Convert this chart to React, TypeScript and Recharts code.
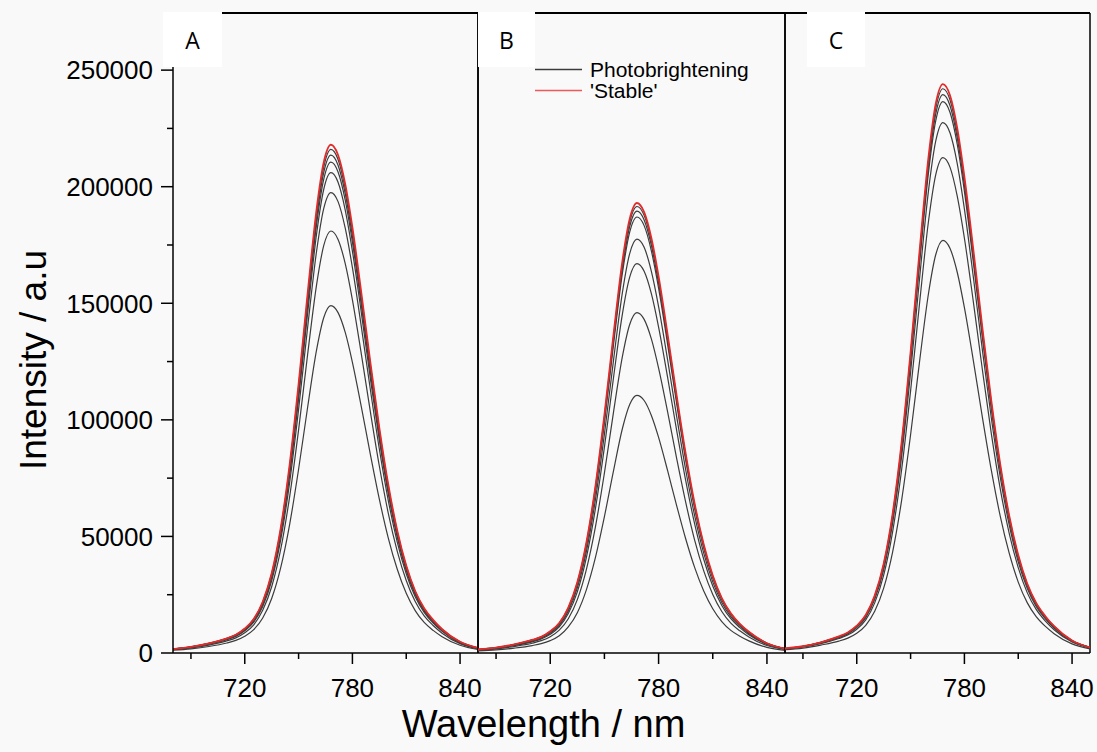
import { LineChart, Line, XAxis, YAxis, ReferenceLine } from 'recharts';

const wavelengths = [680, 690, 700, 710, 715, 720, 725, 730, 735, 740, 745, 750, 755, 760, 764, 768, 772, 776, 780, 785, 790, 795, 800, 805, 810, 815, 820, 825, 830, 840, 850];

const xTicks = [690, 720, 750, 780, 810, 840];
const xLabels = [720, 780, 840];
const yTicks = [0, 25000, 50000, 75000, 100000, 125000, 150000, 175000, 200000, 225000, 250000];
const yLabels = [0, 50000, 100000, 150000, 200000, 250000];

const panelAStable = [1700, 2600, 4100, 6300, 7800, 10500, 14600, 22000, 34200, 53400, 80700, 115300, 153900, 190100, 210400, 218000, 213600, 201100, 182500, 154300, 124700, 96600, 72200, 52500, 37500, 26600, 19200, 14200, 10200, 4800, 2200];
const panelAPhoto = [
  [1700, 2600, 4100, 6300, 7800, 10400, 14500, 21800, 33900, 52900, 79900, 114300, 152500, 188400, 208400, 216000, 211700, 199300, 180800, 152900, 123600, 95700, 71500, 52100, 37200, 26400, 19000, 14000, 10200, 4800, 2200],
  [1700, 2600, 4100, 6200, 7700, 10200, 14300, 21600, 33500, 52300, 79000, 112900, 150700, 186200, 206000, 213500, 209200, 197000, 178700, 151200, 122100, 94600, 70700, 51500, 36700, 26000, 18800, 13900, 10000, 4700, 2100],
  [1700, 2500, 4000, 6100, 7600, 10100, 14100, 21300, 33000, 51600, 77900, 111400, 148600, 183600, 203100, 210500, 206300, 194200, 176200, 149000, 120400, 93300, 69700, 50700, 36200, 25700, 18500, 13700, 9900, 4600, 2100],
  [1600, 2500, 3900, 6000, 7400, 9900, 13800, 20800, 32300, 50500, 76200, 109000, 145400, 179600, 198800, 206000, 201900, 190000, 172400, 145800, 117800, 91300, 68200, 49600, 35400, 25100, 18100, 13400, 9700, 4500, 2100],
  [1600, 2400, 3800, 5700, 7100, 9500, 13200, 19900, 31000, 48400, 73100, 104500, 139400, 172200, 190600, 197500, 193600, 182200, 165300, 139800, 113000, 87500, 65400, 47600, 34000, 24100, 17400, 12800, 9300, 4300, 2000],
  [1400, 2200, 3400, 5200, 6500, 8700, 12100, 18300, 28400, 44300, 67000, 95700, 127800, 157800, 174700, 181000, 177400, 167000, 151500, 128100, 103500, 80200, 59900, 43600, 31100, 22100, 15900, 11800, 8500, 4000, 1800],
  [1200, 1800, 2800, 4300, 5400, 7200, 10000, 15000, 23400, 36500, 55100, 78800, 105200, 129900, 143800, 149000, 146000, 137500, 124700, 105500, 85200, 66000, 49300, 35900, 25600, 18200, 13100, 9700, 7000, 3300, 1500],
];

const panelBStable = [1500, 2300, 3700, 5600, 6900, 9300, 12900, 19500, 30300, 47300, 71400, 102100, 136300, 168300, 186200, 193000, 189100, 178000, 161500, 136600, 110400, 85500, 63900, 46500, 33200, 23500, 17000, 12500, 9100, 4200, 1900];
const panelBPhoto = [
  [1500, 2300, 3600, 5600, 6900, 9200, 12800, 19300, 30100, 46900, 70900, 101300, 135200, 167000, 184800, 191500, 187700, 176700, 160300, 135600, 109500, 84800, 63400, 46200, 32900, 23400, 16900, 12400, 9000, 4200, 1900],
  [1500, 2300, 3600, 5500, 6800, 9100, 12700, 19100, 29800, 46400, 70100, 100200, 133800, 165200, 182900, 189500, 185700, 174800, 158600, 134200, 108400, 83900, 62700, 45700, 32600, 23100, 16700, 12300, 8900, 4200, 1900],
  [1500, 2200, 3600, 5400, 6700, 9000, 12500, 18900, 29400, 45800, 69200, 98900, 132000, 163100, 180500, 187000, 183300, 172500, 156500, 132400, 107000, 82800, 61900, 45100, 32200, 22800, 16500, 12200, 8800, 4100, 1900],
  [1400, 2100, 3400, 5100, 6400, 8500, 11900, 17900, 27900, 43500, 65700, 93900, 125300, 154800, 171300, 177500, 174000, 163700, 148600, 125700, 101500, 78600, 58800, 42800, 30500, 21700, 15600, 11500, 8300, 3900, 1800],
  [1300, 2000, 3200, 4800, 6000, 8000, 11200, 16900, 26200, 40900, 61800, 88300, 117900, 145600, 161200, 167000, 163700, 154100, 139800, 118200, 95500, 74000, 55300, 40200, 28700, 20400, 14700, 10900, 7800, 3700, 1700],
  [1200, 1800, 2800, 4200, 5300, 7000, 9800, 14700, 22900, 35800, 54000, 77200, 103100, 127300, 140900, 146000, 143100, 134700, 122200, 103400, 83500, 64700, 48300, 35200, 25100, 17800, 12800, 9500, 6900, 3200, 1500],
  [900, 1300, 2100, 3200, 4000, 5300, 7400, 11200, 17300, 27100, 40900, 58500, 78000, 96400, 106600, 110500, 108300, 101900, 92500, 78200, 63200, 49000, 36600, 26600, 19000, 13500, 9700, 7200, 5200, 2400, 1100],
];

const panelCStable = [2000, 2900, 4600, 7100, 8800, 11700, 16300, 24600, 38300, 59800, 90300, 129100, 172300, 212800, 235500, 244000, 239100, 225100, 204200, 172800, 139600, 108100, 80800, 58800, 42000, 29800, 21500, 15900, 11500, 5400, 2400];
const panelCPhoto = [
  [1900, 2900, 4600, 7000, 8700, 11600, 16200, 24400, 38000, 59300, 89500, 128000, 170900, 211000, 233500, 242000, 237200, 223200, 202600, 171300, 138400, 107200, 80100, 58300, 41600, 29500, 21300, 15700, 11400, 5300, 2400],
  [1900, 2900, 4600, 6900, 8600, 11500, 16000, 24200, 37600, 58700, 88600, 126700, 169100, 208800, 231100, 239500, 234700, 220900, 200500, 169600, 137000, 106100, 79300, 57700, 41200, 29200, 21100, 15600, 11300, 5300, 2400],
  [1900, 2800, 4500, 6900, 8500, 11400, 15800, 23900, 37100, 57900, 87500, 125100, 167000, 206200, 228200, 236500, 231800, 218200, 198000, 167400, 135300, 104800, 78300, 57000, 40700, 28900, 20800, 15400, 11100, 5200, 2400],
  [1800, 2700, 4300, 6600, 8200, 10900, 15200, 23000, 35700, 55700, 84200, 120300, 160600, 198400, 219500, 227500, 223000, 209900, 190400, 161100, 130100, 100800, 75300, 54800, 39100, 27800, 20000, 14800, 10700, 5000, 2300],
  [1700, 2600, 4000, 6200, 7700, 10200, 14200, 21500, 33400, 52100, 78600, 112400, 150000, 185300, 205100, 212500, 208300, 196000, 177900, 150500, 121600, 94100, 70300, 51200, 36600, 25900, 18700, 13800, 10000, 4700, 2100],
  [1400, 2100, 3400, 5100, 6400, 8500, 11900, 17900, 27800, 43400, 65500, 93600, 125000, 154300, 170800, 177000, 173500, 163300, 148100, 125300, 101200, 78400, 58600, 42700, 30400, 21600, 15600, 11500, 8300, 3900, 1800],
];

const X_MIN = 680;
const X_MAX = 850;
const Y_MAX = 274500;
const FONT = '"Liberation Sans", Arial, sans-serif';
const GRAY = '#3c3c3c';
const RED = '#e22b2b';
const Y_GAP = 20;
const X_GAP = 26;

function buildRows(photo: number[][], stable: number[]) {
  return wavelengths.map((w, i) => {
    const row: Record<string, number> = { w, stable: stable[i] };
    photo.forEach((s, k) => {
      row['p' + k] = s[i];
    });
    return row;
  });
}

const YTick = (props: any) => {
  const { x, y, payload } = props;
  const major = yLabels.includes(payload.value);
  const ax = x + Y_GAP;
  return (
    <g>
      <line x1={ax - (major ? 12 : 6)} x2={ax} y1={y} y2={y} stroke="#000" strokeWidth={1.5} />
      {major && (
        <text x={x} y={y} dy="0.36em" textAnchor="end" fontSize={26} fontFamily={FONT} fill="#000">
          {payload.value}
        </text>
      )}
    </g>
  );
};

const XTick = (props: any) => {
  const { x, y, payload } = props;
  const major = xLabels.includes(payload.value);
  const ay = y - X_GAP;
  return (
    <g>
      <line x1={x} x2={x} y1={ay} y2={ay + (major ? 11 : 6)} stroke="#000" strokeWidth={1.5} />
      {major && (
        <text x={x} y={y} dy="0.71em" textAnchor="middle" fontSize={26} fontFamily={FONT} fill="#000">
          {payload.value}
        </text>
      )}
    </g>
  );
};

interface PanelProps {
  photo: number[][];
  stable: number[];
  left: number;
  right: number;
  first?: boolean;
  xTitle?: boolean;
}

function Panel({ photo, stable, left, right, first, xTitle }: PanelProps) {
  const rows = buildRows(photo, stable);
  return (
    <div style={{ position: 'absolute', left: 0, top: 0 }}>
      <LineChart
        width={1097}
        height={752}
        data={rows}
        margin={{ top: 13, right: 1097 - right, bottom: 9, left: first ? 23 : left }}
      >
        <XAxis
          dataKey="w"
          type="number"
          domain={[X_MIN, X_MAX]}
          allowDataOverflow
          ticks={xTicks}
          interval={0}
          tick={<XTick />}
          tickLine={false}
          tickSize={0}
          tickMargin={X_GAP}
          height={90}
          axisLine={{ stroke: '#000', strokeWidth: 1.5 }}
          label={
            xTitle
              ? {
                  value: 'Wavelength / nm',
                  position: 'insideBottom',
                  offset: 6,
                  dx: -88,
                  style: { fontSize: 38, fontFamily: FONT, fill: '#000' },
                }
              : undefined
          }
        />
        {first ? (
          <YAxis
            type="number"
            domain={[0, Y_MAX]}
            allowDataOverflow
            ticks={yTicks}
            interval={0}
            tick={<YTick />}
            tickLine={false}
            tickSize={0}
            tickMargin={Y_GAP}
            width={150}
            axisLine={{ stroke: '#000', strokeWidth: 1.5 }}
            label={{
              value: 'Intensity / a.u',
              angle: -90,
              position: 'insideLeft',
              offset: 10,
              dy: 27,
              style: { fontSize: 37, fontFamily: FONT, fill: '#000', textAnchor: 'middle' },
            }}
          />
        ) : (
          <YAxis type="number" domain={[0, Y_MAX]} allowDataOverflow hide />
        )}
        {!first && <ReferenceLine x={X_MIN} stroke="#000" strokeWidth={1.5} />}
        <ReferenceLine x={X_MAX} stroke="#000" strokeWidth={1.5} />
        <ReferenceLine y={Y_MAX} stroke="#000" strokeWidth={2} />
        {photo.map((_, k) => (
          <Line
            key={k}
            type="monotone"
            dataKey={'p' + k}
            stroke={GRAY}
            strokeWidth={1.2}
            dot={false}
            isAnimationActive={false}
          />
        ))}
        <Line type="monotone" dataKey="stable" stroke={RED} strokeWidth={1.8} dot={false} isAnimationActive={false} />
      </LineChart>
    </div>
  );
}

const boxStyle = (left: number, width: number): React.CSSProperties => ({
  position: 'absolute',
  left,
  top: 12,
  width,
  height: 55,
  background: '#fff',
  display: 'flex',
  alignItems: 'center',
  justifyContent: 'center',
  fontFamily: '"Open Sans", sans-serif',
  fontSize: 23,
  color: '#000',
});

export default function App() {
  return (
    <div style={{ position: 'absolute', left: 0, top: 0, width: 1097, height: 752, background: '#f9f9f9', overflow: 'hidden' }}>
      <Panel photo={panelAPhoto} stable={panelAStable} left={173} right={478} first />
      <Panel photo={panelBPhoto} stable={panelBStable} left={478} right={785} xTitle />
      <Panel photo={panelCPhoto} stable={panelCStable} left={785} right={1090} />
      <div style={boxStyle(163, 59)}>A</div>
      <div style={boxStyle(478, 57)}>B</div>
      <div style={boxStyle(807, 58)}>C</div>
      <div style={{ position: 'absolute', left: 535, top: 59, fontFamily: FONT, fontSize: 21, color: '#000', lineHeight: '21px' }}>
        {[
          { name: 'Photobrightening', color: GRAY },
          { name: "'Stable'", color: '#ee5a5a' },
        ].map((item) => (
          <div key={item.name} style={{ display: 'flex', alignItems: 'center', height: 21 }}>
            <svg width={55} height={21}>
              <line x1={0} x2={47} y1={10.5} y2={10.5} stroke={item.color} strokeWidth={1.5} />
            </svg>
            <span>{item.name}</span>
          </div>
        ))}
      </div>
    </div>
  );
}
